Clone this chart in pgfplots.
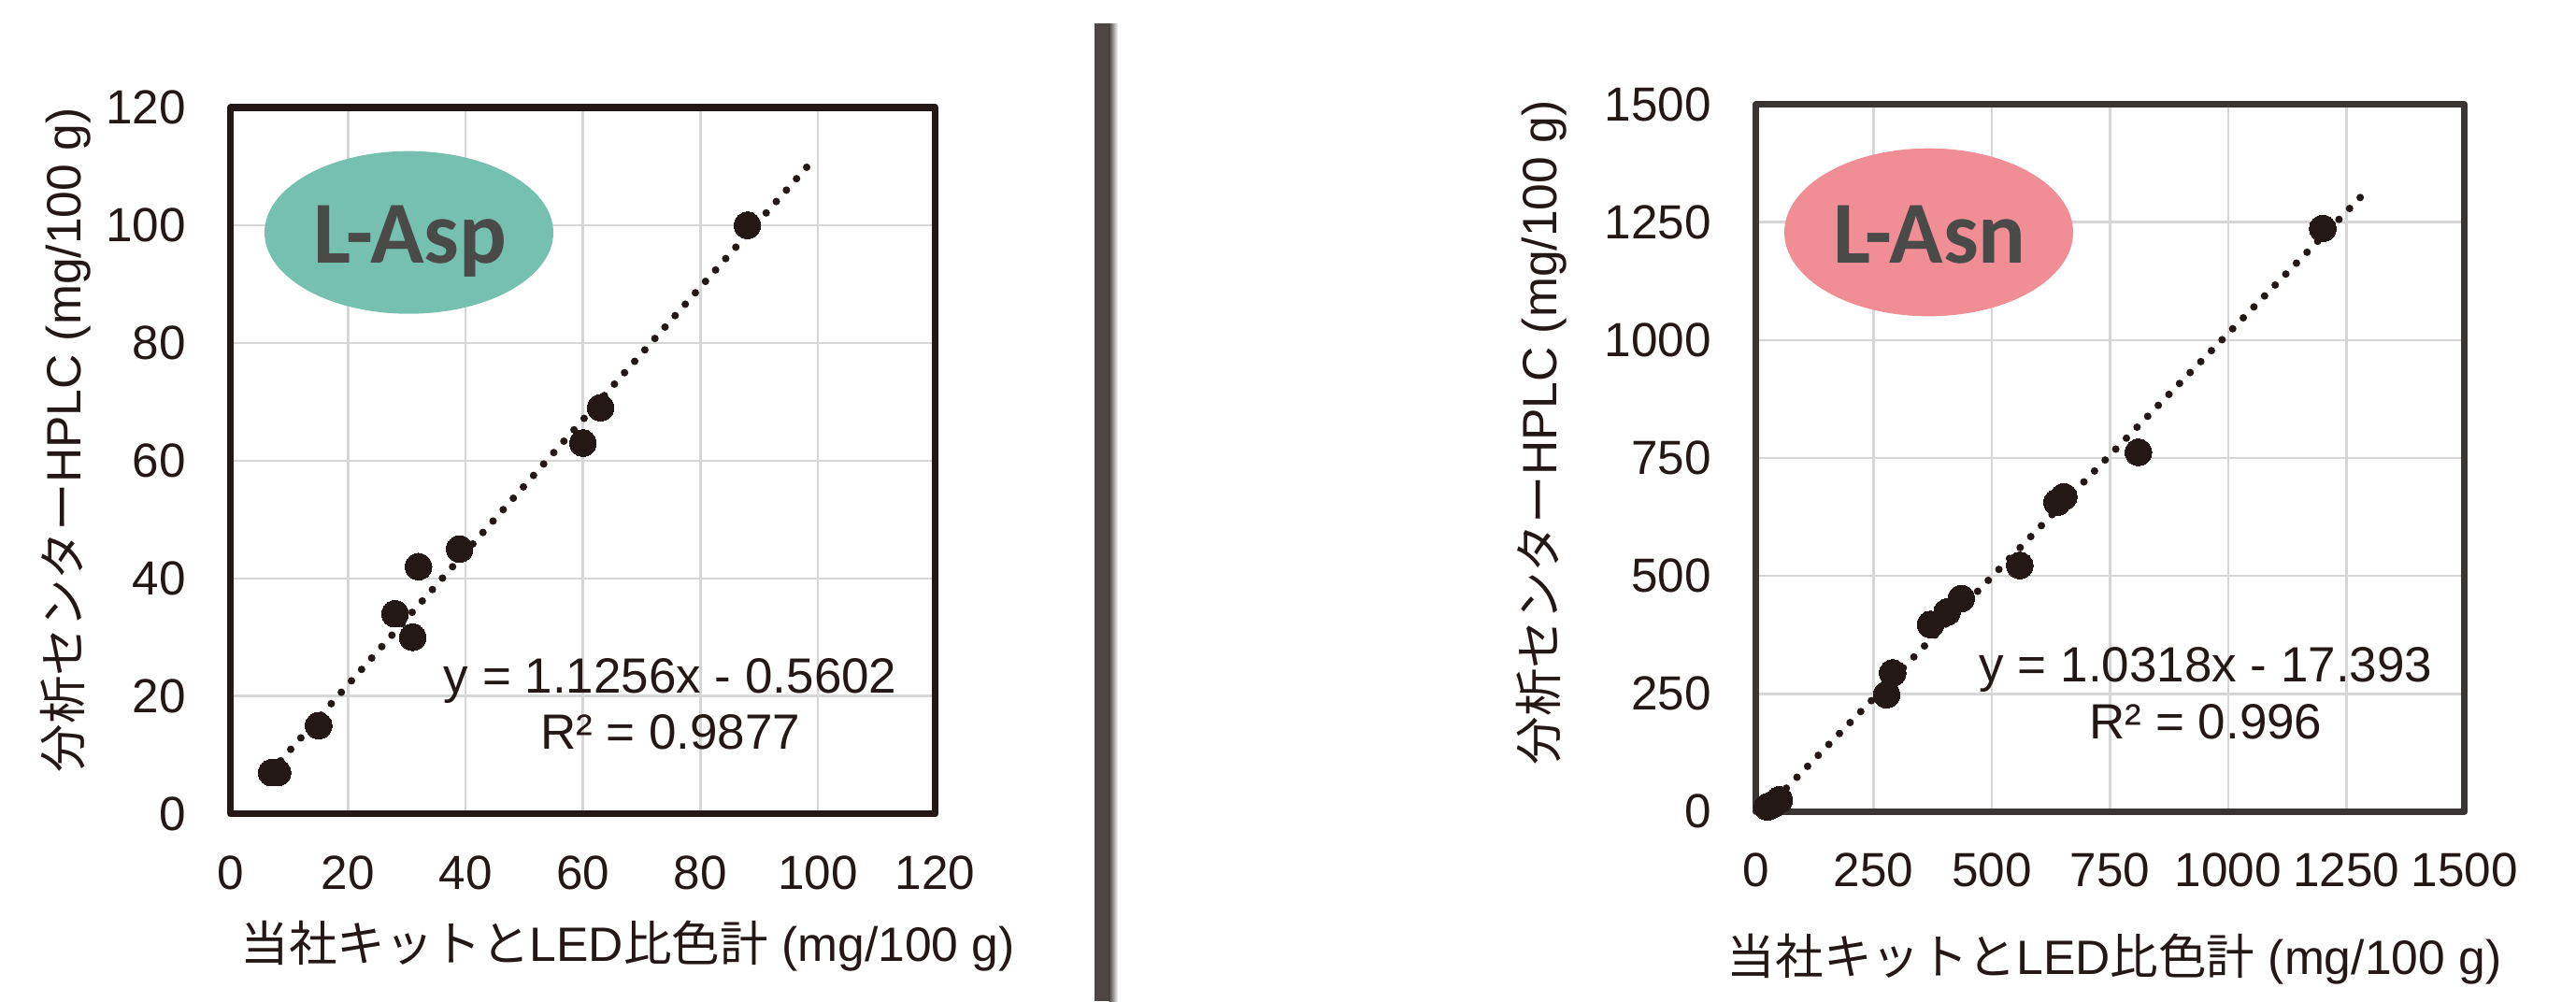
\documentclass[border=0pt]{standalone}
\usepackage{pgfplots}
\pgfplotsset{compat=1.18}
\usepackage{fontspec}
\setmainfont{Liberation Sans}
\newfontfamily\jp{Noto Sans CJK JP}
\newfontfamily\carl{Carlito}
\definecolor{ink}{HTML}{231815}
\definecolor{axR}{HTML}{3A3432}
\definecolor{gridc}{HTML}{D6D6D6}
\definecolor{teal}{HTML}{76C0B0}
\definecolor{pinkc}{HTML}{F18D94}
\definecolor{ttext}{HTML}{4A4A49}
\definecolor{divc}{HTML}{4E4644}
\begin{document}
\begin{tikzpicture}
\useasboundingbox (0,0) rectangle (785.46pt,305.24pt);
\pgfplotsset{
  myax/.style={
    scale only axis, anchor=south west,
    enlargelimits=false, clip=false,
    grid=major, major grid style={draw=gridc, line width=0.75pt},
    major tick length=0pt,
    tick label style={font=\fontsize{14.6}{17}\selectfont, text=ink, inner sep=0pt},
    xticklabel style={anchor=north, yshift=-12.5pt},
    yticklabel style={anchor=east, xshift=-13.4pt},
  },
  trend/.style={ink, line width=2.3pt, dash pattern=on 0pt off 4.65pt, line cap=round},
  pts/.style={only marks, mark=*, mark size=4.06pt, mark options={fill=ink, draw=ink, line width=0pt}},
}
% divider
\fill[divc] (333.65pt,0) rectangle (338.21pt,298.11pt);
\shade[left color=divc, right color=white] (338.2pt,0) rectangle (340.9pt,298.11pt);

% ---------- Left: L-Asp ----------
\begin{axis}[myax, at={(70.31pt,57.08pt)}, width=214.89pt, height=215.37pt,
  xmin=0, xmax=120, ymin=0, ymax=120,
  xtick={0,20,40,60,80,100,120}, xticklabels={0,20,40,60,80,100,120},
  ytick={0,20,40,60,80,100,120}, yticklabels={0,20,40,60,80,100,120},
  axis line style={draw=ink, line width=2.1pt, line join=round}]
\addplot[trend] coordinates {(6.8,7.09) (98.4,110.2)};
\addplot[pts] coordinates {
(7,7) (8,7) (15,15) (28,34) (31,30) (32,42) (39,45) (60,63) (63,69) (88,100)
};
\end{axis}

% ---------- Right: L-Asn ----------
\begin{axis}[myax, at={(535.32pt,57.77pt)}, width=216.14pt, height=215.63pt,
  xmin=0, xmax=1500, ymin=0, ymax=1500,
  xtick={0,250,500,750,1000,1250,1500}, xticklabels={0,250,500,750,1000,1250,1500},
  ytick={0,250,500,750,1000,1250,1500}, yticklabels={0,250,500,750,1000,1250,1500},
  axis line style={draw=axR, line width=2.0pt, line join=round}]
\addplot[trend] coordinates {(20,3.3) (1285,1308.4)};
\addplot[pts] coordinates {
(25,10) (38,16) (50,25) (277,248) (290,294) (370,397) (405,423) (435,452)
(559,522) (638,656) (652,668) (810,762) (1200,1237)
};
\end{axis}

% title ellipses
\fill[teal] (124.69pt,234.36pt) ellipse [x radius=44.03pt, y radius=24.8pt];
\node[anchor=base, inner sep=0pt, text=ttext, font=\carl\bfseries\fontsize{27}{30}\selectfont] at (125.1pt,224.95pt) {L-Asp};
\fill[pinkc] (588.1pt,234.41pt) ellipse [x radius=44.03pt, y radius=25.6pt];
\node[anchor=base, inner sep=0pt, text=ttext, font=\carl\bfseries\fontsize{27}{30}\selectfont] at (588.4pt,224.95pt) {L-Asn};

% regression equations
\node[anchor=base, inner sep=0pt, text=ink, font=\fontsize{15.1}{18}\selectfont] at (204.4pt,93.85pt) {y = 1.1256x - 0.5602};
\node[anchor=base, inner sep=0pt, text=ink, font=\fontsize{15.1}{18}\selectfont] at (204.4pt,76.75pt) {R² = 0.9877};
\node[anchor=base, inner sep=0pt, text=ink, font=\fontsize{15.1}{18}\selectfont] at (672.6pt,97.19pt) {y = 1.0318x - 17.393};
\node[anchor=base, inner sep=0pt, text=ink, font=\fontsize{15.1}{18}\selectfont] at (672.6pt,79.89pt) {R² = 0.996};

% axis labels
\node[rotate=90, inner sep=0pt, text=ink, font=\fontsize{14.7}{17}\selectfont] at (20.0pt,171.0pt) {{\jp 分析センター}HPLC (mg/100 g)};
\node[rotate=90, inner sep=0pt, text=ink, font=\fontsize{14.7}{17}\selectfont] at (469.97pt,173.28pt) {{\jp 分析センター}HPLC (mg/100 g)};
\node[inner sep=0pt, text=ink, font=\fontsize{14.7}{17}\selectfont] at (191.4pt,16.8pt) {{\jp 当社キットと}LED{\jp 比色計} (mg/100 g)};
\node[inner sep=0pt, text=ink, font=\fontsize{14.7}{17}\selectfont] at (644.7pt,12.8pt) {{\jp 当社キットと}LED{\jp 比色計} (mg/100 g)};
\end{tikzpicture}
\end{document}
